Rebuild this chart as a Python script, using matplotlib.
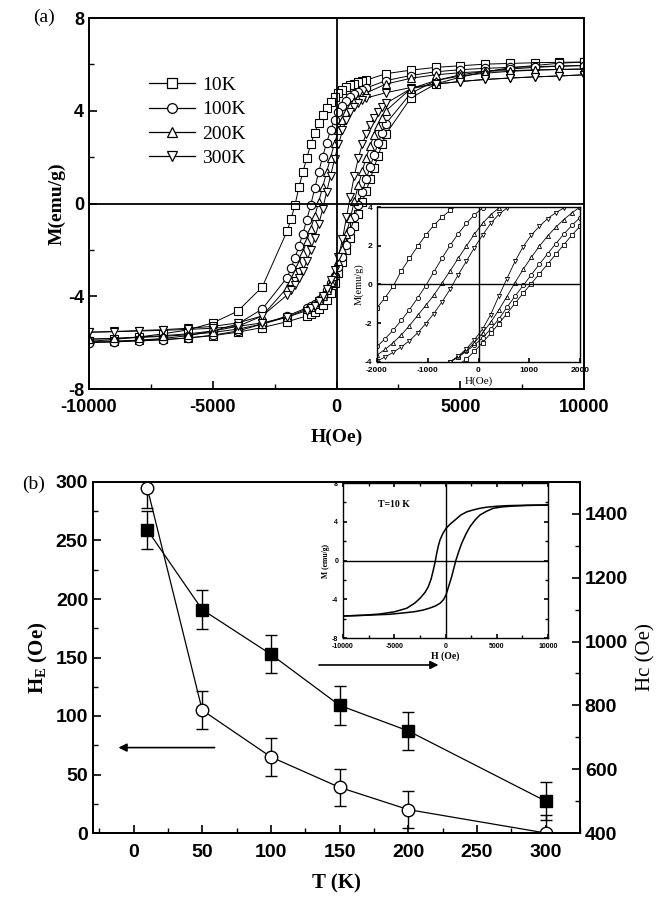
import matplotlib
matplotlib.use('Agg')
import matplotlib.pyplot as plt
from matplotlib.lines import Line2D
from matplotlib.ticker import MultipleLocator

# ---------------- panel (a): M-H loops ----------------
# field sweep (Oe), descending and ascending branches
H_down = [10000, 9000, 8000, 7000, 6000, 5000, 4000, 3000, 2000,
          1200, 1040, 880, 720, 560, 400, 240, 80, -80, -240, -400, -560,
          -720, -880, -1040, -1200, -1360, -1520, -1680, -1840, -2000,
          -3000, -4000, -5000, -6000, -7000, -8000, -9000, -10000]
H_up = [-10000, -9000, -8000, -7000, -6000, -5000, -4000, -3000, -2000,
        -1200, -1040, -880, -720, -560, -400, -240, -80, 80, 240, 400, 560,
        720, 880, 1040, 1200, 1360, 1520, 1680, 1840, 2000,
        3000, 4000, 5000, 6000, 7000, 8000, 9000, 10000]

M_10K_down = [6.10, 6.09, 6.07, 6.04, 6.01, 5.94, 5.87, 5.75, 5.60,
              5.32, 5.28, 5.23, 5.17, 5.10, 5.01, 4.90, 4.76, 4.58, 4.37, 4.12, 3.82,
              3.48, 3.06, 2.55, 1.97, 1.35, 0.70, -0.08, -0.68, -1.20,
              -3.60, -4.65, -5.15, -5.45, -5.62, -5.76, -5.86, -5.95]
M_10K_up = [-5.95, -5.93, -5.90, -5.86, -5.80, -5.70, -5.55, -5.35, -5.10,
            -4.85, -4.78, -4.68, -4.55, -4.38, -4.15, -3.85, -3.45, -3.00, -2.52, -2.02, -1.50,
            -0.97, -0.45, 0.05, 0.55, 1.05, 1.55, 2.05, 2.55, 3.00,
            4.55, 5.15, 5.45, 5.68, 5.85, 5.95, 6.05, 6.10]

M_100K_down = [5.95, 5.93, 5.90, 5.87, 5.83, 5.77, 5.68, 5.52, 5.30,
               4.98, 4.91, 4.83, 4.73, 4.60, 4.43, 4.22, 3.95, 3.60, 3.15, 2.62, 2.02,
               1.35, 0.65, -0.06, -0.70, -1.30, -1.85, -2.35, -2.80, -3.20,
               -4.55, -5.20, -5.50, -5.70, -5.82, -5.90, -5.96, -6.00]
M_100K_up = [-6.00, -5.97, -5.93, -5.88, -5.80, -5.68, -5.50, -5.20, -4.85,
             -4.50, -4.42, -4.32, -4.18, -4.00, -3.75, -3.45, -3.12, -2.75, -2.30, -1.78, -1.18,
             -0.60, -0.05, 0.50, 1.05, 1.58, 2.10, 2.60, 3.05, 3.45,
             4.75, 5.30, 5.55, 5.70, 5.80, 5.87, 5.92, 5.95]

M_200K_down = [5.80, 5.78, 5.76, 5.73, 5.70, 5.64, 5.55, 5.40, 5.15,
               4.77, 4.67, 4.55, 4.40, 4.20, 3.95, 3.60, 3.15, 2.60, 1.98, 1.35, 0.70,
               0.07, -0.55, -1.08, -1.60, -2.12, -2.60, -3.00, -3.35, -3.64,
               -4.85, -5.30, -5.50, -5.62, -5.70, -5.76, -5.82, -5.85]
M_200K_up = [-5.85, -5.82, -5.78, -5.73, -5.66, -5.56, -5.42, -5.20, -4.90,
             -4.55, -4.45, -4.33, -4.18, -3.98, -3.72, -3.40, -3.00, -2.50, -1.95, -1.32, -0.62,
             0.10, 0.78, 1.40, 1.98, 2.50, 2.95, 3.35, 3.70, 4.00,
             4.95, 5.30, 5.50, 5.62, 5.70, 5.75, 5.78, 5.80]

M_300K_down = [5.55, 5.50, 5.46, 5.41, 5.35, 5.26, 5.15, 5.00, 4.78,
               4.55, 4.45, 4.33, 4.17, 3.95, 3.62, 3.15, 2.55, 1.90, 1.20, 0.50, -0.25,
               -0.90, -1.50, -2.02, -2.50, -2.90, -3.22, -3.50, -3.74, -3.95,
               -4.85, -5.15, -5.30, -5.38, -5.44, -5.48, -5.52, -5.55]
M_300K_up = [-5.55, -5.53, -5.50, -5.47, -5.43, -5.38, -5.30, -5.15, -4.90,
             -4.62, -4.52, -4.40, -4.22, -4.00, -3.70, -3.32, -2.85, -2.30, -1.55, -0.60, 0.30,
             1.20, 1.95, 2.55, 3.00, 3.40, 3.70, 3.95, 4.15, 4.32,
             4.95, 5.15, 5.26, 5.35, 5.41, 5.46, 5.50, 5.55]

loop_labels = ['10K', '100K', '200K', '300K']
loop_markers = ['s', 'o', '^', 'v']

# ---------------- panel (b): HE and Hc vs T ----------------
T = [10, 50, 100, 150, 200, 300]
HE = [295, 105, 65, 39, 20, 0]
HE_err = [17, 16, 16, 16, 16, 15]
Hc = [1350, 1100, 960, 800, 720, 500]
Hc_err = [60, 60, 60, 60, 60, 60]

# inset of (b): 10 K loop
H_in_down = [10000, 8000, 6000, 5000, 4000, 3365, 2700, 2068, 1500, 927,
             500, 49, -250, -537, -700, -859, -1000, -1190, -1400, -1678,
             -2000, -2488, -3000, -3785, -5000, -6390, -8000, -10000]
M_in_down = [5.73, 5.71, 5.66, 5.60, 5.50, 5.39, 5.22, 5.02, 4.70, 4.18,
             3.80, 3.32, 2.80, 2.12, 1.50, 0.74, -0.10, -0.98, -1.90, -2.70,
             -3.30, -3.90, -4.40, -4.93, -5.30, -5.52, -5.65, -5.73]
H_in_up = [-10000, -8000, -5415, -4000, -3000, -2166, -1500, -1000, -537,
           -200, 49, 300, 602, 800, 1024, 1300, 1580, 2000, 2390, 2900,
           3365, 4000, 4663, 5500, 6615, 8000, 10000]
M_in_up = [-5.73, -5.66, -5.55, -5.40, -5.28, -5.11, -4.90, -4.70, -4.42,
           -4.05, -3.56, -2.70, -1.67, -0.85, 0.05, 0.95, 1.77, 2.75, 3.49, 4.20,
           4.70, 5.08, 5.39, 5.53, 5.62, 5.68, 5.73]

serif = 'Liberation Serif'
sans = 'Liberation Sans'
plt.rcParams['font.family'] = sans
plt.rcParams['font.weight'] = 'bold'
plt.rcParams['axes.unicode_minus'] = False
plt.rcParams['xtick.direction'] = 'in'
plt.rcParams['ytick.direction'] = 'in'
plt.rcParams['mathtext.fontset'] = 'custom'
plt.rcParams['mathtext.rm'] = serif + ':bold'
plt.rcParams['mathtext.bf'] = serif + ':bold'

W, Hpx = 662, 897
fig = plt.figure(figsize=(W / 100, Hpx / 100), dpi=100)


def px_axes(x0, y0, x1, y1):
    return fig.add_axes([x0 / W, 1 - y1 / Hpx, (x1 - x0) / W, (y1 - y0) / Hpx])


def style_ticks(ax, size, major=6, minor=3.5):
    ax.tick_params(which='major', length=major, width=1.2, labelsize=size)
    ax.tick_params(which='minor', length=minor, width=1.0)
    for s in ax.spines.values():
        s.set_linewidth(1.4)


# ---- (a) main ----
ax1 = px_axes(89, 18, 584, 389)
downs = [M_10K_down, M_100K_down, M_200K_down, M_300K_down]
ups = [M_10K_up, M_100K_up, M_200K_up, M_300K_up]
for md, mu, mk in zip(downs, ups, loop_markers):
    for h, m in ((H_down, md), (H_up, mu)):
        ax1.plot(h, m, color='k', lw=0.7, marker=mk, ms=6, mfc='white',
                 mec='k', mew=0.8)
ax1.axhline(0, color='k', lw=1.3)
ax1.axvline(0, color='k', lw=1.3)
ax1.set_xlim(-10000, 10000)
ax1.set_ylim(-8, 8)
ax1.xaxis.set_major_locator(MultipleLocator(5000))
ax1.xaxis.set_minor_locator(MultipleLocator(2500))
ax1.yaxis.set_major_locator(MultipleLocator(4))
ax1.yaxis.set_minor_locator(MultipleLocator(2))
style_ticks(ax1, 13)
ax1.tick_params(axis='x', pad=7)
ax1.set_xlabel('H(Oe)', family=serif, fontsize=14, fontweight='bold', labelpad=9)
ax1.set_ylabel('M(emu/g)', family=serif, fontsize=14, fontweight='bold', labelpad=2)

handles = [Line2D([], [], color='k', lw=0.9, marker=mk, ms=7, mfc='white',
                  mec='k', mew=0.9) for mk in loop_markers]
ax1.legend(handles, loop_labels, loc='upper left', bbox_to_anchor=(0.085, 0.89),
           frameon=False, prop={'family': serif, 'size': 14, 'weight': 'normal'},
           handlelength=2.4, handletextpad=0.35, labelspacing=0.35)
fig.text(55 / W, 1 - 17 / Hpx, '(a)', family=serif, fontsize=14,
         fontweight='normal', ha='right', va='center')

# ---- (a) inset ----
axi = px_axes(377, 207, 580, 362)
for md, mu, mk in zip(downs, ups, loop_markers):
    for h, m in ((H_down, md), (H_up, mu)):
        axi.plot(h, m, color='k', lw=0.6, marker=mk, ms=3, mfc='white',
                 mec='k', mew=0.6)
axi.axhline(0, color='k', lw=1.0)
axi.axvline(0, color='k', lw=1.0)
axi.set_xlim(-2000, 2000)
axi.set_ylim(-4, 4)
axi.xaxis.set_major_locator(MultipleLocator(1000))
axi.yaxis.set_major_locator(MultipleLocator(2))
style_ticks(axi, 6, major=3, minor=2)
for s in axi.spines.values():
    s.set_linewidth(1.0)
axi.set_xlabel('H(Oe)', family=serif, fontsize=8, fontweight='normal', labelpad=2)
axi.set_ylabel('M(emu/g)', family=serif, fontsize=7.5, fontweight='normal', labelpad=1)

# ---- (b) main ----
ax2 = px_axes(93, 482, 580, 833)
ax2.errorbar(T, HE, yerr=HE_err, fmt='-o', color='k', lw=0.9, ms=9,
             mfc='white', mec='k', mew=1.0, capsize=4, elinewidth=1.0, zorder=3)
ax2.set_xlim(-29.5, 325)
ax2.set_ylim(0, 300)
ax2.xaxis.set_major_locator(MultipleLocator(50))
ax2.xaxis.set_minor_locator(MultipleLocator(25))
ax2.yaxis.set_major_locator(MultipleLocator(50))
ax2.yaxis.set_minor_locator(MultipleLocator(25))
style_ticks(ax2, 14)
ax2.tick_params(axis='x', pad=8)
ax2.set_xlabel('T (K)', family=serif, fontsize=15, fontweight='bold', labelpad=9)
ax2.set_ylabel(r'$\mathbf{H_E}$' + ' (Oe)', family=serif, fontsize=15,
               fontweight='bold', labelpad=4)

ax2r = ax2.twinx()
ax2r.errorbar(T, Hc, yerr=Hc_err, fmt='-s', color='k', lw=0.9, ms=8.5,
              mfc='k', mec='k', capsize=4, elinewidth=1.0, zorder=3)
ax2r.set_ylim(400, 1500)
ax2r.yaxis.set_major_locator(MultipleLocator(200))
ax2r.yaxis.set_minor_locator(MultipleLocator(100))
style_ticks(ax2r, 14)
ax2r.set_ylabel('Hc (Oe)', family=serif, fontsize=15, fontweight='normal', labelpad=6)

ax2.annotate('', xy=(-13, 73), xytext=(61, 73),
             arrowprops=dict(arrowstyle='-|>', color='k', lw=1.2, mutation_scale=12))
ax2.annotate('', xy=(224, 143.6), xytext=(133, 143.6),
             arrowprops=dict(arrowstyle='-|>', color='k', lw=1.2, mutation_scale=12))
fig.text(45 / W, 1 - 484 / Hpx, '(b)', family=serif, fontsize=14,
         fontweight='normal', ha='right', va='center')

# ---- (b) inset ----
axb = px_axes(343, 483, 548, 638)
axb.plot(H_in_down, M_in_down, color='k', lw=1.1)
axb.plot(H_in_up, M_in_up, color='k', lw=1.1)
axb.axhline(0, color='k', lw=1.0)
axb.axvline(0, color='k', lw=1.0)
axb.set_xlim(-10000, 10000)
axb.set_ylim(-8, 8)
axb.xaxis.set_major_locator(MultipleLocator(5000))
axb.xaxis.set_minor_locator(MultipleLocator(2500))
axb.yaxis.set_major_locator(MultipleLocator(4))
axb.yaxis.set_minor_locator(MultipleLocator(2))
axb.tick_params(which='both', top=True, right=True)
style_ticks(axb, 5, major=3, minor=2)
for s in axb.spines.values():
    s.set_linewidth(1.0)
axb.set_xlabel('H (Oe)', family=serif, fontsize=7, fontweight='bold', labelpad=1)
axb.set_ylabel('M (emu/g)', family=serif, fontsize=5.5, fontweight='bold', labelpad=1)
axb.text(-5000, 5.8, 'T=10 K', family=serif, fontsize=7, fontweight='bold',
         ha='center', va='center')

fig.savefig('out.png', dpi=100)
